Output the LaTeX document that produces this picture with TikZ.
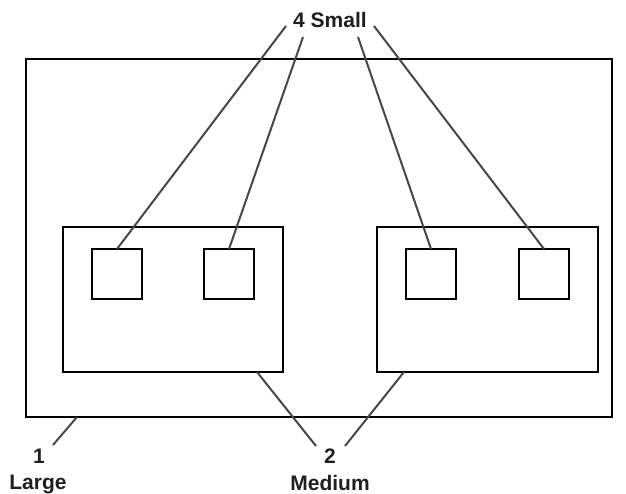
\documentclass[tikz,border=0pt]{standalone}
\usepackage{fontspec}
\setmainfont{Liberation Sans}
\begin{document}
\begin{tikzpicture}[x=1pt,y=-1pt,
  frame/.style={draw=black,line width=1.1pt,fill=white,inner sep=0pt,outer sep=0pt},
  leader/.style={draw=black!72,line width=2pt},
  tag/.style={font=\fontsize{21}{23}\selectfont\bfseries,text=black!88,inner sep=0pt}]
\useasboundingbox (0,0) rectangle (626,494);

% outer (large) area
\node[frame,minimum width=586pt,minimum height=358pt] (large) at (319,238) {};
% medium areas
\node[frame,minimum width=220pt,minimum height=145pt] (medL) at (173,299.5) {};
\node[frame,minimum width=221pt,minimum height=145pt] (medR) at (487.5,299.5) {};
% small areas
\node[frame,minimum size=50pt] (s1) at (117,274) {};
\node[frame,minimum size=50pt] (s2) at (229,274) {};
\node[frame,minimum size=50pt] (s3) at (431,274) {};
\node[frame,minimum size=50pt] (s4) at (544,274) {};

% labels
\node[tag] (small) at (330,20) {4 Small};
\node[tag] (one) at (39,456) {1};
\node[tag] (large-txt) at (38,484) {Large};
\node[tag] (two) at (330,456) {2};
\node[tag] (medium-txt) at (330,483) {Medium};

% free ends of the leader lines beside the labels
\coordinate (a1) at (286,26);
\coordinate (a2) at (303,37);
\coordinate (a3) at (358,37);
\coordinate (a4) at (374,26);
\coordinate (b1) at (53,445);
\coordinate (c1) at (316,446);
\coordinate (c2) at (345,446);

% leader lines
\draw[leader] (a1) -- (s1.north);
\draw[leader] (a2) -- (s2.north);
\draw[leader] (a3) -- (s3.north);
\draw[leader] (a4) -- (s4.north);
\draw[leader] (b1) -- (large.south west -| 77,0);
\draw[leader] (c1) -- (medL.south west -| 257,0);
\draw[leader] (c2) -- (medR.south west -| 404,0);
\end{tikzpicture}
\end{document}
